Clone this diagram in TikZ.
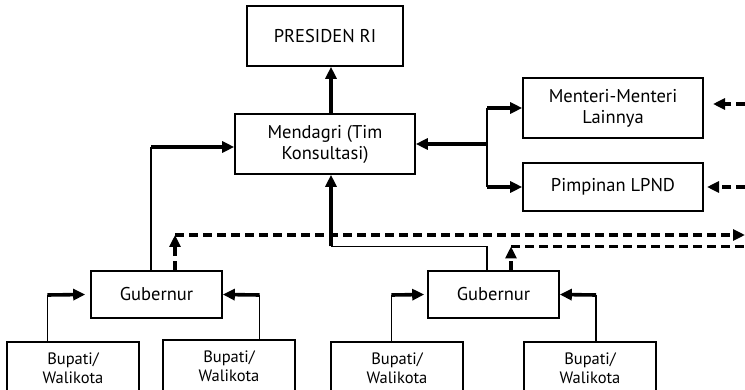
\documentclass[tikz,border=0pt]{standalone}
\usepackage{fontspec}
\setmainfont{PT Sans}
\usetikzlibrary{arrows.meta,calc}
\begin{document}
\begin{tikzpicture}[x=1pt,y=-1pt,
  box/.style={draw,line width=1.6pt,rectangle,inner sep=0pt,align=center,font=\fontsize{18.5}{21}\selectfont},
  smallbox/.style={box,font=\fontsize{16.5}{19}\selectfont,minimum width=132pt,minimum height=52pt},
  gubbox/.style={box,minimum width=131pt,minimum height=47pt},
  thinln/.style={line width=1.6pt},
  thickln/.style={line width=3.6pt},
  arr/.style={-{Triangle[length=12pt,width=11pt]}},
  dashln/.style={line width=3.4pt,dash pattern=on 9pt off 5pt},
  dashthin/.style={line width=2.6pt,dash pattern=on 9pt off 5pt},
]
\useasboundingbox (0,0) rectangle (745,390);

% boxes
\node[box,minimum width=156pt,minimum height=60pt] (pres) at (325,36) {PRESIDEN RI};
\node[box,minimum width=180pt,minimum height=60pt] (mdg) at (325,144) {Mendagri (Tim\\Konsultasi)};
\node[box,minimum width=180pt,minimum height=60pt] (mtr) at (613,108) {Menteri-Menteri\\Lainnya};
\node[box,minimum width=180pt,minimum height=48pt] (lpnd) at (613,187) {Pimpinan LPND};
\node[gubbox] (gl) at (156.5,294.5) {Gubernur};
\node[gubbox] (gr) at (493.5,294.5) {Gubernur};
\node[smallbox] (b1) at (73,368) {Bupati/\\Walikota};
\node[smallbox] (b2) at (229,366) {Bupati/\\Walikota};
\node[smallbox] (b3) at (397,368) {Bupati/\\Walikota};
\node[smallbox] (b4) at (590,368) {Bupati/\\Walikota};

% helper coordinates
\coordinate (ax) at (331,0);
\coordinate (br) at (487,144);
\coordinate (lx) at (151,147);
\coordinate (dl) at (175,235);
\coordinate (rx) at (487,246.5);
\coordinate (dr) at (511,246.5);
\coordinate (edge) at (745,0);
\coordinate (m1) at (713,104);
\coordinate (m2) at (707,187);
\coordinate (c1) at (47.5,295);
\coordinate (c2) at (259.5,295);
\coordinate (c3) at (391.5,295);
\coordinate (c4) at (596,295);

% Mendagri -> Presiden
\draw[thickln,arr] (ax |- mdg.north) -- (ax |- pres.south);

% branch to Menteri / LPND
\draw[thickln,arr] (br) -- (br -| mdg.east);
\draw[thinln] (br |- mtr.west) -- (br |- lpnd.west);
\draw[thickln,arr] (br |- mtr.west) -- (mtr.west);
\draw[thickln,arr] (br |- lpnd.west) -- (lpnd.west);

% dashed arrows from the right edge
\draw[dashln,arr] (edge |- m1) -- (m1);
\draw[dashln,arr] (edge |- m2) -- (m2);

% left Gubernur -> Mendagri
\draw[thinln] (lx |- gl.north) -- (lx);
\draw[thickln,arr] (lx) -- (lx -| mdg.west);

% left Gubernur dashed
\draw[dashln,arr] (dl |- gl.north) -- (dl);
\draw[dashln,arr] (dl) -- (edge |- dl);

% right Gubernur -> Mendagri
\draw[thinln] (rx |- gr.north) -- (rx) -- (ax |- rx);
\draw[thickln,arr] (ax |- rx) -- (ax |- mdg.south);

% right Gubernur dashed
\draw[dashln,arr] (dr |- gr.north) -- (dr);
\draw[dashthin] (dr) -- (edge |- dr);

% Bupati -> Gubernur
\draw[thinln] (c1 |- b1.north) -- (c1);
\draw[thickln,arr] (c1) -- ([xshift=-5pt]gl.west);
\draw[thinln] (c2 |- b2.north) -- (c2);
\draw[thickln,arr] (c2) -- (gl.east);
\draw[thinln] (c3 |- b3.north) -- (c3);
\draw[thickln,arr] (c3) -- ([xshift=-3pt]gr.west);
\draw[thinln] (c4 |- b4.north) -- (c4);
\draw[thickln,arr] (c4) -- (gr.east);
\end{tikzpicture}
\end{document}
